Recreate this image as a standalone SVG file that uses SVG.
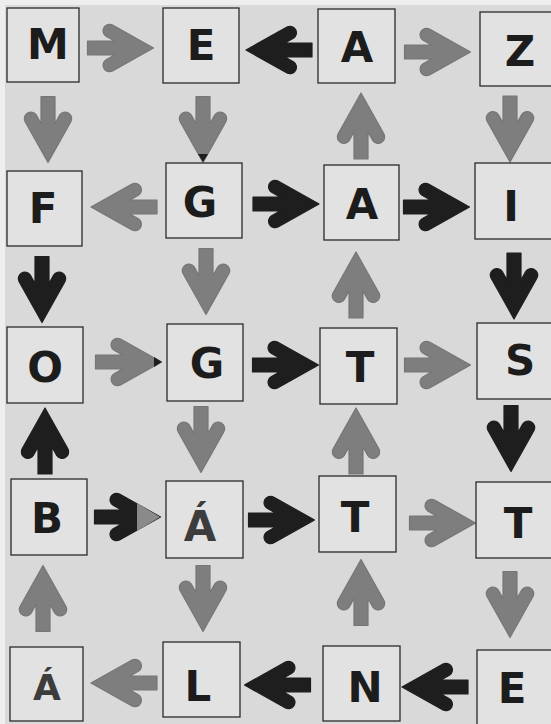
<svg xmlns="http://www.w3.org/2000/svg" xmlns:xlink="http://www.w3.org/1999/xlink" width="551" height="724" viewBox="0 0 551 724">
<style>
.box{fill:#e2e2e2;stroke:#2a2a2a;stroke-width:1.3}
.t{font-family:"DejaVu Sans","Liberation Sans",sans-serif;font-weight:bold;font-size:42px;fill:#1c1c1c;text-anchor:middle}
.ts{fill:#3c3c3c}
.g{fill:#7e7e7e;stroke:#767676;stroke-width:1.2;stroke-linejoin:round}
.k{fill:#1e1e1e;stroke:#1e1e1e;stroke-width:1.2;stroke-linejoin:round}
</style>
<defs>
<path id="arr" d="M33,0 L-8,-23 A6.5,6.5 0 0 0 -14.4,-11.7 L-6,-7 L-33,-7 L-33,7 L-6,7 L-14.4,11.7 A6.5,6.5 0 0 0 -8,23 Z"/>
</defs>
<rect x="0" y="0" width="551" height="724" fill="#d9d9d9"/>
<rect x="0" y="0" width="551" height="5" fill="#eeeeee"/>
<rect x="0" y="0" width="5" height="724" fill="#eeeeee"/>

<g id="connectors">
<use xlink:href="#arr" class="g" transform="translate(120.5,48)"/>
<use xlink:href="#arr" class="k" transform="translate(279,50) rotate(180)"/>
<use xlink:href="#arr" class="g" transform="translate(437.5,52)"/>
<use xlink:href="#arr" class="g" transform="translate(48,129.5) rotate(90)"/>
<use xlink:href="#arr" class="g" transform="translate(203,129.5) rotate(90)"/>
<path d="M198,154 L203,162 L208,154 Z" fill="#1e1e1e"/>
<use xlink:href="#arr" class="g" transform="translate(361,126) rotate(-90)"/>
<use xlink:href="#arr" class="g" transform="translate(510,129) rotate(90)"/>
<use xlink:href="#arr" class="g" transform="translate(124,207) rotate(180)"/>
<use xlink:href="#arr" class="k" transform="translate(286,204)"/>
<use xlink:href="#arr" class="k" transform="translate(436.5,207)"/>
<use xlink:href="#arr" class="k" transform="translate(42,289.5) rotate(90)"/>
<use xlink:href="#arr" class="g" transform="translate(206,281.5) rotate(90)"/>
<use xlink:href="#arr" class="g" transform="translate(356,285) rotate(-90)"/>
<use xlink:href="#arr" class="k" transform="translate(514,286) rotate(90)"/>
<use xlink:href="#arr" class="g" transform="translate(128.5,362)"/>
<path d="M154,357 L162,362 L154,367 Z" fill="#1e1e1e"/>
<use xlink:href="#arr" class="k" transform="translate(285.5,365)"/>
<use xlink:href="#arr" class="g" transform="translate(437.5,365)"/>
<use xlink:href="#arr" class="k" transform="translate(45,441) rotate(-90)"/>
<use xlink:href="#arr" class="g" transform="translate(201,439.5) rotate(90)"/>
<use xlink:href="#arr" class="g" transform="translate(356,441) rotate(-90)"/>
<use xlink:href="#arr" class="k" transform="translate(511,438.5) rotate(90)"/>
<use xlink:href="#arr" class="k" transform="translate(127.5,517)"/>
<path d="M137,503 L160,517 L137,531 Z" fill="#8a8a8a"/>
<use xlink:href="#arr" class="k" transform="translate(281.5,520)"/>
<use xlink:href="#arr" class="g" transform="translate(442.5,523)"/>
<use xlink:href="#arr" class="g" transform="translate(43,598.5) rotate(-90)"/>
<use xlink:href="#arr" class="g" transform="translate(203,598.5) rotate(90)"/>
<use xlink:href="#arr" class="g" transform="translate(361,592.5) rotate(-90)"/>
<use xlink:href="#arr" class="g" transform="translate(510,604.5) rotate(90)"/>
<use xlink:href="#arr" class="g" transform="translate(124,683) rotate(180)"/>
<use xlink:href="#arr" class="k" transform="translate(277.5,685) rotate(180)"/>
<use xlink:href="#arr" class="k" transform="translate(435,687) rotate(180)"/>
</g>

<g id="n-M"><rect class="box" x="7" y="8" width="72" height="74"/><text class="t" x="48" y="59">M</text></g>
<g id="n-E1"><rect class="box" x="163" y="8" width="76" height="75"/><text class="t" x="201" y="60">E</text></g>
<g id="n-A1"><rect class="box" x="318" y="9" width="77" height="74"/><text class="t" x="357" y="62">A</text></g>
<g id="n-Z"><rect class="box" x="480" y="12" width="76" height="74"/><text class="t" x="520" y="66">Z</text></g>

<g id="n-F"><rect class="box" x="7" y="171" width="75" height="75"/><text class="t" x="43" y="223">F</text></g>
<g id="n-G1"><rect class="box" x="166" y="163" width="76" height="75"/><text class="t" x="200" y="217">G</text></g>
<g id="n-A2"><rect class="box" x="324" y="165" width="75" height="75"/><text class="t" x="362" y="219">A</text></g>
<g id="n-I"><rect class="box" x="475" y="163" width="80" height="76"/><text class="t" x="511" y="221">I</text></g>

<g id="n-O"><rect class="box" x="7" y="327" width="76" height="76"/><text class="t" x="45" y="382">O</text></g>
<g id="n-G2"><rect class="box" x="167" y="324" width="76" height="77"/><text class="t" x="207" y="378">G</text></g>
<g id="n-T1"><rect class="box" x="320" y="328" width="77" height="76"/><text class="t" x="360" y="382">T</text></g>
<g id="n-S"><rect class="box" x="477" y="323" width="78" height="76"/><text class="t" x="520" y="375">S</text></g>

<g id="n-B"><rect class="box" x="11" y="479" width="76" height="76"/><text class="t" x="47" y="533">B</text></g>
<g id="n-Aa1"><rect class="box" x="166" y="481" width="77" height="77"/><text class="t ts" x="200" y="541">Á</text></g>
<g id="n-T2"><rect class="box" x="319" y="476" width="77" height="76"/><text class="t" x="355" y="532">T</text></g>
<g id="n-T3"><rect class="box" x="476" y="482" width="79" height="76"/><text class="t" x="518" y="538">T</text></g>

<g id="n-Aa2"><rect class="box" x="10" y="647" width="73" height="74"/><text class="t ts" x="47" y="700" style="font-size:36px">Á</text></g>
<g id="n-L"><rect class="box" x="163" y="642" width="77" height="75"/><text class="t" x="198" y="701">L</text></g>
<g id="n-N"><rect class="box" x="323" y="646" width="77" height="75"/><text class="t" x="365" y="702">N</text></g>
<g id="n-E2"><rect class="box" x="477" y="650" width="78" height="78"/><text class="t" x="512" y="703">E</text></g>
</svg>
